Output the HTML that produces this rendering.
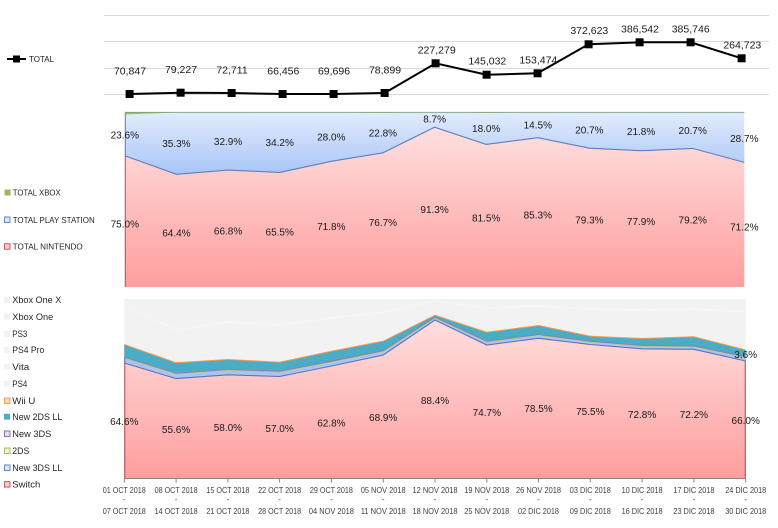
<!DOCTYPE html>
<html>
<head>
<meta charset="utf-8">
<style>
html,body{margin:0;padding:0;background:#fff;}
svg{display:block;font-family:"Liberation Sans",Arial,sans-serif;}
</style>
</head>
<body>
<svg width="778" height="528" viewBox="0 0 778 528" xmlns="http://www.w3.org/2000/svg">
<defs>
  <linearGradient id="pinkM" gradientUnits="userSpaceOnUse" x1="0" y1="125" x2="0" y2="287">
    <stop offset="0" stop-color="#ffe0e0"/>
    <stop offset="1" stop-color="#ff9e9e"/>
  </linearGradient>
  <linearGradient id="blueM" gradientUnits="userSpaceOnUse" x1="0" y1="112" x2="0" y2="178">
    <stop offset="0" stop-color="#e2ecfd"/>
    <stop offset="1" stop-color="#a5c3f8"/>
  </linearGradient>
  <linearGradient id="pinkB" gradientUnits="userSpaceOnUse" x1="0" y1="316" x2="0" y2="478">
    <stop offset="0" stop-color="#ffe0e0"/>
    <stop offset="1" stop-color="#ff9e9e"/>
  </linearGradient>
</defs>

<!-- ================= TOP CHART ================= -->
<g stroke="#d9d9d9" stroke-width="1">
  <line x1="104" y1="15.5" x2="769" y2="15.5"/>
  <line x1="104" y1="41.5" x2="769" y2="41.5"/>
  <line x1="104" y1="68.5" x2="769" y2="68.5"/>
  <line x1="104" y1="94.5" x2="769" y2="94.5"/>
</g>
<polyline fill="none" stroke="#000" stroke-width="2" points="129.6,94 180.6,92.7 231.6,93 282.6,94 333.6,94 384.6,93 435.6,63.3 486.6,74.7 537.6,73.3 588.6,44.3 639.6,42.3 690.6,42.3 741.6,58.3"/>
<g fill="#000">
  <rect x="125.6" y="90" width="8" height="8"/>
  <rect x="176.6" y="88.7" width="8" height="8"/>
  <rect x="227.6" y="89" width="8" height="8"/>
  <rect x="278.6" y="90" width="8" height="8"/>
  <rect x="329.6" y="90" width="8" height="8"/>
  <rect x="380.6" y="89" width="8" height="8"/>
  <rect x="431.6" y="59.3" width="8" height="8"/>
  <rect x="482.6" y="70.7" width="8" height="8"/>
  <rect x="533.6" y="69.3" width="8" height="8"/>
  <rect x="584.6" y="40.3" width="8" height="8"/>
  <rect x="635.6" y="38.3" width="8" height="8"/>
  <rect x="686.6" y="38.3" width="8" height="8"/>
  <rect x="737.6" y="54.3" width="8" height="8"/>
</g>
<g font-size="10.5" fill="#1a1a1a" text-anchor="middle">
  <text x="130" y="74.4">70,847</text>
  <text x="181" y="73">79,227</text>
  <text x="232" y="73.6">72,711</text>
  <text x="283.3" y="74.7">66,456</text>
  <text x="334" y="74.7">69,696</text>
  <text x="385" y="73.4">78,899</text>
  <text x="436.7" y="53.7">227,279</text>
  <text x="487.3" y="64.7">145,032</text>
  <text x="538.3" y="63.4">153,474</text>
  <text x="589.3" y="34">372,623</text>
  <text x="640" y="32.4">386,542</text>
  <text x="690.7" y="32.4">385,746</text>
  <text x="742.3" y="48.4">264,723</text>
</g>
<!-- top legend -->
<line x1="7" y1="59" x2="26" y2="59" stroke="#000" stroke-width="2"/>
<rect x="13" y="55.5" width="7" height="7" fill="#000"/>
<text x="29" y="61.8" font-size="8" fill="#1a1a1a">TOTAL</text>

<!-- ================= MIDDLE CHART ================= -->
<!-- Nintendo -->
<polygon fill="url(#pinkM)" points="124.8,155.75 176.4,174.3 228.1,170.1 279.7,172.4 331.3,161.35 382.9,152.8 434.6,127.2 486.2,144.4 537.8,137.7 589.4,148.2 641.1,150.7 692.7,148.4 744.3,162.4 744.3,287 124.8,287"/>
<!-- PlayStation -->
<polygon fill="url(#blueM)" points="124.8,114.45 176.4,112.5 228.1,112.5 279.7,112.5 331.3,112.35 382.9,112.9 434.6,112 486.2,112.9 537.8,112.35 589.4,112 641.1,112.5 692.7,112.2 744.3,112.2 744.3,162.4 692.7,148.4 641.1,150.7 589.4,148.2 537.8,137.7 486.2,144.4 434.6,127.2 382.9,152.8 331.3,161.35 279.7,172.4 228.1,170.1 176.4,174.3 124.8,155.75"/>
<!-- Xbox -->
<polygon fill="#9bbb59" points="124.8,112 176.4,112 228.1,112 279.7,112 331.3,112 382.9,112 434.6,112 486.2,112 537.8,112 589.4,112 641.1,112 692.7,112 744.3,112 744.3,112.2 692.7,112.2 641.1,112.5 589.4,112 537.8,112.35 486.2,112.9 434.6,112 382.9,112.9 331.3,112.35 279.7,112.5 228.1,112.5 176.4,112.5 124.8,114.45"/>
<line x1="124.8" y1="112.3" x2="744.3" y2="112.3" stroke="#7f9f7a" stroke-width="0.9"/>
<polyline fill="none" stroke="#5b7fbf" stroke-width="1.1" points="124.8,155.75 176.4,174.3 228.1,170.1 279.7,172.4 331.3,161.35 382.9,152.8 434.6,127.2 486.2,144.4 537.8,137.7 589.4,148.2 641.1,150.7 692.7,148.4 744.3,162.4"/>
<line x1="125.3" y1="114" x2="125.3" y2="156" stroke="#4f81bd" stroke-width="1"/>
<line x1="125.3" y1="156" x2="125.3" y2="287" stroke="#c0504d" stroke-width="1"/>

<g font-size="10" fill="#1a1a1a" text-anchor="middle">
  <text x="124.8" y="138.6">23.6%</text>
  <text x="176.4" y="146.9">35.3%</text>
  <text x="228.1" y="144.8">32.9%</text>
  <text x="279.7" y="146">34.2%</text>
  <text x="331.3" y="140.4">28.0%</text>
  <text x="382.9" y="136.4">22.8%</text>
  <text x="434.6" y="122.6">8.7%</text>
  <text x="486.2" y="132.2">18.0%</text>
  <text x="537.8" y="128.5">14.5%</text>
  <text x="589.4" y="133.6">20.7%</text>
  <text x="641.1" y="135.1">21.8%</text>
  <text x="692.7" y="133.8">20.7%</text>
  <text x="744.3" y="141.8">28.7%</text>

  <text x="124.8" y="227.4">75.0%</text>
  <text x="176.4" y="236.6">64.4%</text>
  <text x="228.1" y="234.5">66.8%</text>
  <text x="279.7" y="235.7">65.5%</text>
  <text x="331.3" y="230.2">71.8%</text>
  <text x="382.9" y="225.9">76.7%</text>
  <text x="434.6" y="213.1">91.3%</text>
  <text x="486.2" y="221.7">81.5%</text>
  <text x="537.8" y="218.3">85.3%</text>
  <text x="589.4" y="223.6">79.3%</text>
  <text x="641.1" y="224.8">77.9%</text>
  <text x="692.7" y="223.7">79.2%</text>
  <text x="744.3" y="230.7">71.2%</text>
</g>

<!-- middle legend -->
<rect x="4.5" y="189.5" width="6" height="6" fill="#9bbb59"/>
<text x="12.7" y="195.6" font-size="8" fill="#262626" textLength="48" lengthAdjust="spacingAndGlyphs">TOTAL XBOX</text>
<rect x="4.5" y="217" width="5.5" height="5.5" fill="#dbe6fb" stroke="#4f81bd" stroke-width="0.9"/>
<text x="12.7" y="223" font-size="8" fill="#262626" textLength="82" lengthAdjust="spacingAndGlyphs">TOTAL PLAY STATION</text>
<rect x="4.5" y="243.7" width="5.5" height="5.5" fill="#ffc9c9" stroke="#c0504d" stroke-width="0.9"/>
<text x="12.7" y="249.6" font-size="8" fill="#262626" textLength="70" lengthAdjust="spacingAndGlyphs">TOTAL NINTENDO</text>

<!-- ================= BOTTOM CHART ================= -->
<rect x="124.3" y="299" width="621.4" height="179.3" fill="#f2f2f2"/>
<g fill="none" stroke="#f8f8f8" stroke-width="0.8">
  <polyline points="124.3,305 176.1,330 227.9,322 279.6,325 331.4,318 383.2,312 435,301 486.8,308 538.5,306 590.3,309 642.1,310 693.9,309 745.7,312"/>
</g>
<!-- Wii U -->
<polygon fill="#f79646" points="124.3,344 176.1,362.3 227.9,359 279.6,361.8 331.4,350.7 383.2,340.7 435,314.7 486.8,331.7 538.5,325 590.3,335.7 642.1,338 693.9,336.3 745.7,349.5 745.7,478.3 124.3,478.3"/>
<!-- New 2DS LL -->
<polygon fill="#4bacc6" points="124.3,345 176.1,363.3 227.9,360 279.6,362.8 331.4,351.7 383.2,341.7 435,315.7 486.8,332.7 538.5,326 590.3,336.7 642.1,339 693.9,337.3 745.7,350.5 745.7,478.3 124.3,478.3"/>
<!-- New 3DS -->
<polygon fill="#8f7bb5" points="124.3,356.8 176.1,372.9 227.9,369.1 279.6,370.8 331.4,360.8 383.2,350.3 435,316.8 486.8,340.8 538.5,334.1 590.3,340.8 642.1,345.1 693.9,345.6 745.7,356.3 745.7,478.3 124.3,478.3"/>
<!-- 2DS -->
<polygon fill="#b5cc86" points="124.3,357.7 176.1,373.8 227.9,370 279.6,371.7 331.4,361.7 383.2,351.2 435,317.7 486.8,341.7 538.5,335 590.3,341.7 642.1,346 693.9,346.5 745.7,357.2 745.7,478.3 124.3,478.3"/>
<!-- New 3DS LL -->
<polygon fill="#a9c4f4" points="124.3,358.5 176.1,374.6 227.9,370.8 279.6,372.5 331.4,362.5 383.2,352 435,318.5 486.8,342.5 538.5,335.8 590.3,342.5 642.1,346.8 693.9,347.3 745.7,358 745.7,478.3 124.3,478.3"/>
<!-- Switch -->
<polygon fill="url(#pinkB)" points="124.3,363 176.1,378.6 227.9,374.8 279.6,376.5 331.4,366 383.2,355 435,320 486.8,345 538.5,338.3 590.3,344.5 642.1,348.8 693.9,349.3 745.7,361 745.7,478.3 124.3,478.3"/>
<polyline fill="none" stroke="#5a72b8" stroke-width="1.1" points="124.3,363 176.1,378.6 227.9,374.8 279.6,376.5 331.4,366 383.2,355 435,320 486.8,345 538.5,338.3 590.3,344.5 642.1,348.8 693.9,349.3 745.7,361"/>
<line x1="124.8" y1="358" x2="124.8" y2="363" stroke="#4f81bd" stroke-width="1"/>
<line x1="124.8" y1="363" x2="124.8" y2="478" stroke="#c0504d" stroke-width="1"/>
<line x1="745.2" y1="361" x2="745.2" y2="478" stroke="#c0504d" stroke-width="1"/>

<!-- x axis -->
<line x1="124.3" y1="478.5" x2="745.7" y2="478.5" stroke="#868686" stroke-width="1"/>
<g stroke="#868686" stroke-width="1">
  <line x1="124.3" y1="478.5" x2="124.3" y2="482.5"/>
  <line x1="176.1" y1="478.5" x2="176.1" y2="482.5"/>
  <line x1="227.9" y1="478.5" x2="227.9" y2="482.5"/>
  <line x1="279.6" y1="478.5" x2="279.6" y2="482.5"/>
  <line x1="331.4" y1="478.5" x2="331.4" y2="482.5"/>
  <line x1="383.2" y1="478.5" x2="383.2" y2="482.5"/>
  <line x1="435" y1="478.5" x2="435" y2="482.5"/>
  <line x1="486.8" y1="478.5" x2="486.8" y2="482.5"/>
  <line x1="538.5" y1="478.5" x2="538.5" y2="482.5"/>
  <line x1="590.3" y1="478.5" x2="590.3" y2="482.5"/>
  <line x1="642.1" y1="478.5" x2="642.1" y2="482.5"/>
  <line x1="693.9" y1="478.5" x2="693.9" y2="482.5"/>
  <line x1="745.7" y1="478.5" x2="745.7" y2="482.5"/>
</g>

<g font-size="10" fill="#1a1a1a" text-anchor="middle">
  <text x="124.3" y="425.2">64.6%</text>
  <text x="176.1" y="433">55.6%</text>
  <text x="227.9" y="431.1">58.0%</text>
  <text x="279.6" y="432">57.0%</text>
  <text x="331.4" y="426.7">62.8%</text>
  <text x="383.2" y="421.2">68.9%</text>
  <text x="435" y="404.2">88.4%</text>
  <text x="486.8" y="416.2">74.7%</text>
  <text x="538.5" y="412.2">78.5%</text>
  <text x="590.3" y="415.2">75.5%</text>
  <text x="642.1" y="417.8">72.8%</text>
  <text x="693.9" y="417.8">72.2%</text>
  <text x="745.7" y="424.2">66.0%</text>
  <text x="745.7" y="357.8">3.6%</text>
</g>

<!-- x labels -->
<g font-size="8" fill="#404040" text-anchor="middle" lengthAdjust="spacingAndGlyphs">
  <text x="124.3" y="492.8" textLength="43" lengthAdjust="spacingAndGlyphs">01 OCT 2018</text>
  <text x="176.1" y="492.8" textLength="43" lengthAdjust="spacingAndGlyphs">08 OCT 2018</text>
  <text x="227.9" y="492.8" textLength="43" lengthAdjust="spacingAndGlyphs">15 OCT 2018</text>
  <text x="279.6" y="492.8" textLength="43" lengthAdjust="spacingAndGlyphs">22 OCT 2018</text>
  <text x="331.4" y="492.8" textLength="43" lengthAdjust="spacingAndGlyphs">29 OCT 2018</text>
  <text x="383.2" y="492.8" textLength="45" lengthAdjust="spacingAndGlyphs">05 NOV 2018</text>
  <text x="435" y="492.8" textLength="45" lengthAdjust="spacingAndGlyphs">12 NOV 2018</text>
  <text x="486.8" y="492.8" textLength="45" lengthAdjust="spacingAndGlyphs">19 NOV 2018</text>
  <text x="538.5" y="492.8" textLength="45" lengthAdjust="spacingAndGlyphs">26 NOV 2018</text>
  <text x="590.3" y="492.8" textLength="41" lengthAdjust="spacingAndGlyphs">03 DIC 2018</text>
  <text x="642.1" y="492.8" textLength="41" lengthAdjust="spacingAndGlyphs">10 DIC 2018</text>
  <text x="693.9" y="492.8" textLength="41" lengthAdjust="spacingAndGlyphs">17 DIC 2018</text>
  <text x="745.7" y="492.8" textLength="41" lengthAdjust="spacingAndGlyphs">24 DIC 2018</text>

  <text x="124.3" y="502">-</text>
  <text x="176.1" y="502">-</text>
  <text x="227.9" y="502">-</text>
  <text x="279.6" y="502">-</text>
  <text x="331.4" y="502">-</text>
  <text x="383.2" y="502">-</text>
  <text x="435" y="502">-</text>
  <text x="486.8" y="502">-</text>
  <text x="538.5" y="502">-</text>
  <text x="590.3" y="502">-</text>
  <text x="642.1" y="502">-</text>
  <text x="693.9" y="502">-</text>
  <text x="745.7" y="502">-</text>

  <text x="124.3" y="514.1" textLength="43" lengthAdjust="spacingAndGlyphs">07 OCT 2018</text>
  <text x="176.1" y="514.1" textLength="43" lengthAdjust="spacingAndGlyphs">14 OCT 2018</text>
  <text x="227.9" y="514.1" textLength="43" lengthAdjust="spacingAndGlyphs">21 OCT 2018</text>
  <text x="279.6" y="514.1" textLength="43" lengthAdjust="spacingAndGlyphs">28 OCT 2018</text>
  <text x="331.4" y="514.1" textLength="45" lengthAdjust="spacingAndGlyphs">04 NOV 2018</text>
  <text x="383.2" y="514.1" textLength="45" lengthAdjust="spacingAndGlyphs">11 NOV 2018</text>
  <text x="435" y="514.1" textLength="45" lengthAdjust="spacingAndGlyphs">18 NOV 2018</text>
  <text x="486.8" y="514.1" textLength="45" lengthAdjust="spacingAndGlyphs">25 NOV 2018</text>
  <text x="538.5" y="514.1" textLength="41" lengthAdjust="spacingAndGlyphs">02 DIC 2018</text>
  <text x="590.3" y="514.1" textLength="41" lengthAdjust="spacingAndGlyphs">09 DIC 2018</text>
  <text x="642.1" y="514.1" textLength="41" lengthAdjust="spacingAndGlyphs">16 DIC 2018</text>
  <text x="693.9" y="514.1" textLength="41" lengthAdjust="spacingAndGlyphs">23 DIC 2018</text>
  <text x="745.7" y="514.1" textLength="41" lengthAdjust="spacingAndGlyphs">30 DIC 2018</text>
</g>

<!-- bottom legend -->
<g font-size="9" fill="#262626">
  <rect x="4" y="297" width="6" height="6" fill="#f2f2f2"/>
  <text x="12.3" y="303.2" textLength="49" lengthAdjust="spacingAndGlyphs">Xbox One X</text>
  <rect x="4" y="313.7" width="6" height="6" fill="#f2f2f2"/>
  <text x="12.3" y="319.9" textLength="41" lengthAdjust="spacingAndGlyphs">Xbox One</text>
  <rect x="4" y="330.7" width="6" height="6" fill="#f2f2f2"/>
  <text x="12.3" y="336.9" textLength="15" lengthAdjust="spacingAndGlyphs">PS3</text>
  <rect x="4" y="346.7" width="6" height="6" fill="#f2f2f2"/>
  <text x="12.3" y="352.9" textLength="32" lengthAdjust="spacingAndGlyphs">PS4 Pro</text>
  <rect x="4" y="363.7" width="6" height="6" fill="#f2f2f2"/>
  <text x="12.3" y="369.9" textLength="17" lengthAdjust="spacingAndGlyphs">Vita</text>
  <rect x="4" y="380.7" width="6" height="6" fill="#f2f2f2"/>
  <text x="12.3" y="386.9" textLength="15" lengthAdjust="spacingAndGlyphs">PS4</text>
  <rect x="4.5" y="398" width="5.5" height="5.5" fill="#fcd5b4" stroke="#f79646" stroke-width="0.9"/>
  <text x="12.3" y="403.9" textLength="23" lengthAdjust="spacingAndGlyphs">Wii U</text>
  <rect x="4" y="413.7" width="6" height="6" fill="#4bacc6"/>
  <text x="12.3" y="419.9" textLength="50" lengthAdjust="spacingAndGlyphs">New 2DS LL</text>
  <rect x="4.5" y="431" width="5.5" height="5.5" fill="#e4dfec" stroke="#8064a2" stroke-width="0.9"/>
  <text x="12.3" y="436.9" textLength="39" lengthAdjust="spacingAndGlyphs">New 3DS</text>
  <rect x="4.5" y="448" width="5.5" height="5.5" fill="#ebf1de" stroke="#9bbb59" stroke-width="0.9"/>
  <text x="12.3" y="453.9" textLength="17" lengthAdjust="spacingAndGlyphs">2DS</text>
  <rect x="4.5" y="465" width="5.5" height="5.5" fill="#dbe6fb" stroke="#4f81bd" stroke-width="0.9"/>
  <text x="12.3" y="470.9" textLength="50" lengthAdjust="spacingAndGlyphs">New 3DS LL</text>
  <rect x="4.5" y="481.6" width="5.5" height="5.5" fill="#ffc9c9" stroke="#c0504d" stroke-width="0.9"/>
  <text x="12.3" y="487.5" textLength="28" lengthAdjust="spacingAndGlyphs">Switch</text>
</g>
</svg>
</body>
</html>
